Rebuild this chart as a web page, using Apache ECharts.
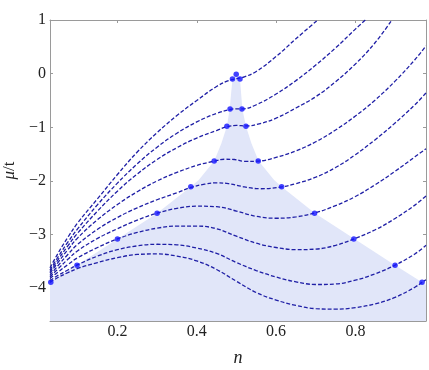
<!DOCTYPE html>
<html><head><meta charset="utf-8">
<script src="https://cdn.jsdelivr.net/npm/echarts@6/dist/echarts.min.js"></script>
<style>html,body{margin:0;padding:0;background:#fff}#c{width:429px;height:370px}</style>
</head><body><div id="c"></div>
<script>
// ---- tick labels ----
const xTicks = [0.2, 0.4, 0.6, 0.8];
const xTickLabels = ['0.2', '0.4', '0.6', '0.8'];
const yTicks = [-4, -3, -2, -1, 0, 1];
const yTickLabels = ['\u22124', '\u22123', '\u22122', '\u22121', '0', '1'];

// ---- shaded region boundary (n, mu/t) ----
const boundN  = [0.03, 0.098, 0.2, 0.3, 0.385, 0.405, 0.444, 0.462, 0.476, 0.483, 0.49, 0.4995, 0.509, 0.515, 0.524, 0.538, 0.556, 0.595, 0.614, 0.698, 0.798, 0.9, 0.968, 0.978];
const boundMu = [-3.89, -3.57, -3.08, -2.60, -2.11, -1.98, -1.63, -1.30, -0.98, -0.66, -0.10, 0.0, -0.10, -0.66, -0.98, -1.30, -1.63, -1.98, -2.11, -2.60, -3.08, -3.57, -3.89, -3.94];

// ---- dashed curves (n, mu/t) ----
const c1N  = [0.03, 0.05, 0.075, 0.1, 0.15, 0.2, 0.25, 0.3, 0.35, 0.4, 0.45, 0.48, 0.5, 0.52, 0.55, 0.6, 0.65, 0.705];
const c1Mu = [-3.62, -3.35, -3.05, -2.78, -2.33, -1.88, -1.46, -1.10, -0.78, -0.50, -0.24, -0.13, -0.095, -0.06, 0.04, 0.32, 0.65, 1.0];
const c2N  = [0.03, 0.05, 0.075, 0.1, 0.15, 0.2, 0.25, 0.3, 0.35, 0.4, 0.45, 0.484, 0.5, 0.516, 0.55, 0.6, 0.65, 0.7, 0.75, 0.8, 0.825];
const c2Mu = [-3.66, -3.42, -3.14, -2.89, -2.44, -2.04, -1.68, -1.37, -1.11, -0.90, -0.74, -0.67, -0.655, -0.655, -0.58, -0.38, -0.13, 0.16, 0.48, 0.83, 1.0];
const c3N  = [0.03, 0.05, 0.075, 0.1, 0.15, 0.2, 0.25, 0.3, 0.35, 0.4, 0.45, 0.476, 0.5, 0.524, 0.56, 0.6, 0.65, 0.7, 0.75, 0.8, 0.85, 0.892];
const c3Mu = [-3.69, -3.47, -3.21, -2.97, -2.56, -2.19, -1.87, -1.60, -1.38, -1.20, -1.06, -0.99, -0.965, -0.975, -0.93, -0.83, -0.64, -0.43, -0.15, 0.18, 0.58, 1.0];
const c4N  = [0.03, 0.05, 0.075, 0.1, 0.15, 0.2, 0.25, 0.3, 0.35, 0.4, 0.444, 0.47, 0.495, 0.52, 0.555, 0.6, 0.65, 0.7, 0.75, 0.8, 0.85, 0.9, 0.95, 0.978];
const c4Mu = [-3.72, -3.52, -3.28, -3.06, -2.72, -2.44, -2.20, -2.00, -1.84, -1.71, -1.63, -1.595, -1.60, -1.635, -1.63, -1.56, -1.44, -1.27, -1.05, -0.79, -0.49, -0.14, 0.26, 0.52];
const c5N  = [0.03, 0.05, 0.075, 0.1, 0.15, 0.2, 0.25, 0.3, 0.35, 0.385, 0.42, 0.45, 0.48, 0.52, 0.56, 0.614, 0.65, 0.7, 0.75, 0.8, 0.85, 0.9, 0.95, 0.978];
const c5Mu = [-3.76, -3.58, -3.37, -3.18, -2.90, -2.68, -2.50, -2.35, -2.22, -2.12, -2.06, -2.035, -2.05, -2.11, -2.145, -2.11, -2.05, -1.93, -1.75, -1.51, -1.23, -0.92, -0.58, -0.36];
const c6N  = [0.03, 0.05, 0.075, 0.1, 0.15, 0.2, 0.25, 0.3, 0.35, 0.4, 0.45, 0.5, 0.55, 0.6, 0.65, 0.7, 0.75, 0.8, 0.85, 0.9, 0.95, 0.978];
const c6Mu = [-3.79, -3.64, -3.46, -3.30, -3.07, -2.89, -2.73, -2.60, -2.51, -2.47, -2.48, -2.56, -2.66, -2.695, -2.67, -2.59, -2.46, -2.29, -2.07, -1.82, -1.55, -1.40];
const c7N  = [0.03, 0.05, 0.075, 0.1, 0.15, 0.2, 0.25, 0.3, 0.35, 0.4, 0.45, 0.5, 0.55, 0.6, 0.65, 0.7, 0.75, 0.8, 0.85, 0.9, 0.95, 0.978];
const c7Mu = [-3.82, -3.70, -3.56, -3.43, -3.24, -3.08, -2.96, -2.88, -2.84, -2.84, -2.89, -3.03, -3.16, -3.24, -3.28, -3.27, -3.20, -3.07, -2.91, -2.70, -2.45, -2.28];
const c8N  = [0.03, 0.05, 0.075, 0.1, 0.15, 0.2, 0.25, 0.3, 0.35, 0.4, 0.45, 0.5, 0.55, 0.6, 0.65, 0.7, 0.75, 0.8, 0.85, 0.9, 0.95, 0.978];
const c8Mu = [-3.86, -3.76, -3.66, -3.56, -3.40, -3.28, -3.21, -3.18, -3.19, -3.25, -3.35, -3.52, -3.67, -3.79, -3.88, -3.93, -3.92, -3.85, -3.73, -3.57, -3.36, -3.20];
const c9N  = [0.03, 0.05, 0.075, 0.1, 0.15, 0.2, 0.25, 0.3, 0.35, 0.4, 0.45, 0.5, 0.55, 0.6, 0.65, 0.7, 0.75, 0.8, 0.85, 0.9, 0.95, 0.968, 0.978];
const c9Mu = [-3.89, -3.80, -3.71, -3.63, -3.52, -3.43, -3.37, -3.36, -3.40, -3.49, -3.65, -3.87, -4.08, -4.22, -4.32, -4.38, -4.39, -4.36, -4.29, -4.17, -3.98, -3.89, -3.84];

// ---- marked points ----
const dotN  = [0.032, 0.098, 0.2, 0.3, 0.385, 0.444, 0.476, 0.484, 0.49, 0.4995, 0.509, 0.514, 0.524, 0.555, 0.614, 0.697, 0.796, 0.9, 0.968];
const dotMu = [-3.89, -3.57, -3.08, -2.60, -2.11, -1.63, -0.98, -0.66, -0.10, -0.01, -0.10, -0.66, -0.98, -1.63, -2.11, -2.60, -3.08, -3.57, -3.89];

const curves = [[c1N, c1Mu], [c2N, c2Mu], [c3N, c3Mu], [c4N, c4Mu], [c5N, c5Mu], [c6N, c6Mu], [c7N, c7Mu], [c8N, c8Mu], [c9N, c9Mu]];
const zip = (a, b) => a.map((v, i) => [v, b[i]]);

const FONT = 'Liberation Serif';
const frame = '#9a9a9a';
const lookup = (ticks, labels) => v => {
  const i = ticks.findIndex(t => Math.abs(t - v) < 1e-6);
  return i >= 0 ? labels[i] : '';
};

const X_MIN = 0.03, X_MAX = 0.978, Y_MIN = -4.61, Y_MAX = 1;

const baseX = {
  type: 'value', min: X_MIN, max: X_MAX, splitNumber: 5,
  axisLine: { onZero: false, lineStyle: { color: frame, width: 1 } },
  axisTick: { inside: true, length: 3, lineStyle: { color: frame } },
  splitLine: { show: false }
};
const baseY = {
  type: 'value', min: Y_MIN, max: Y_MAX, splitNumber: 6,
  axisLine: { onZero: false, lineStyle: { color: frame, width: 1 } },
  axisTick: { inside: true, length: 3, lineStyle: { color: frame } },
  splitLine: { show: false }
};

const series = [{
  type: 'line', data: zip(boundN, boundMu), showSymbol: false, silent: true,
  lineStyle: { width: 0, opacity: 0 },
  areaStyle: { color: '#e1e6f9', opacity: 1, origin: 'start' },
  z: 1
}];
curves.forEach(([n, m]) => series.push({
  type: 'line', data: zip(n, m), showSymbol: false, smooth: 0.4,
  lineStyle: { color: '#1f1fa6', width: 1.3, type: [4, 2] },
  z: 2
}));
series.push({
  type: 'scatter', data: zip(dotN, dotMu), symbolSize: 5.5,
  itemStyle: { color: '#1414ff' }, z: 3
});

const chart = echarts.init(document.getElementById('c'), null, { renderer: 'canvas' });
chart.setOption({
  animation: false,
  backgroundColor: '#fff',
  grid: { left: 50, right: 3, top: 20, bottom: 49, containLabel: false, outerBoundsMode: 'none' },
  xAxis: [
    Object.assign({}, baseX, {
      position: 'bottom',
      axisLabel: { showMinLabel: false, showMaxLabel: false, fontFamily: FONT, fontSize: 16, color: '#222', margin: 3, formatter: lookup(xTicks, xTickLabels) },
      name: 'n', nameLocation: 'middle', nameGap: 28,
      nameTextStyle: { fontFamily: FONT, fontStyle: 'italic', fontSize: 18, color: '#222' }
    }),
    Object.assign({}, baseX, { position: 'top', axisLabel: { show: false } })
  ],
  yAxis: [
    Object.assign({}, baseY, {
      position: 'left',
      axisLabel: { showMinLabel: false, fontFamily: FONT, fontSize: 16, color: '#222', margin: 4, formatter: lookup(yTicks, yTickLabels) },
      name: '{i|\u03bc}/t', nameLocation: 'middle', nameGap: 30, nameRotate: 90,
      nameTextStyle: { fontFamily: FONT, fontSize: 17, color: '#222', rich: { i: { fontFamily: FONT, fontStyle: 'italic', fontSize: 17, color: '#222' } } }
    }),
    Object.assign({}, baseY, { position: 'right', axisLabel: { show: false } })
  ],
  series: series
});
</script></body></html>
